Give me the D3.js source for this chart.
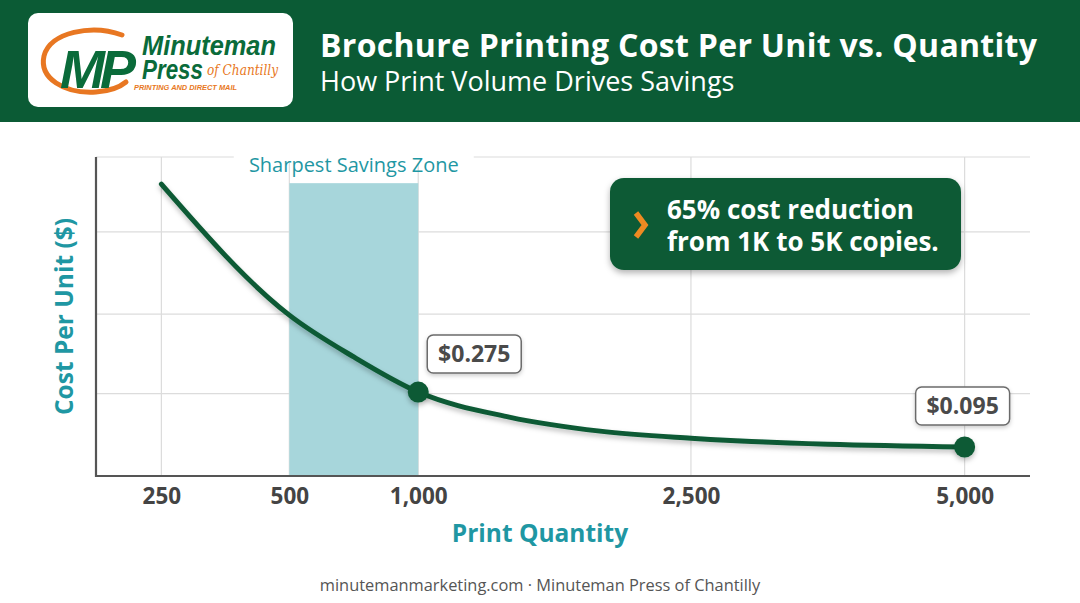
<!DOCTYPE html>
<html>
<head>
<meta charset="utf-8">
<script src="https://cdn.jsdelivr.net/npm/d3@7"></script>
<style>
  html, body { margin: 0; padding: 0; background: #ffffff; }
  svg { display: block; font-family: "Open Sans", "Noto Sans", sans-serif; }
</style>
</head>
<body>
<svg id="chart" width="1080" height="603"></svg>
<script>
// ---- data ----
const quantities   = [250, 500, 750, 1000, 1500, 2000, 2500, 5000];
const costPerUnit  = [0.956, 0.527, 0.39, 0.275, 0.193, 0.147, 0.124, 0.095];
const tickQuantities = [250, 500, 1000, 2500, 5000];
const tickLabels     = ["250", "500", "1,000", "2,500", "5,000"];
const gridCosts      = [0.27, 0.53, 0.80, 1.045];
const highlightQuantities = [1000, 5000];
const highlightLabels     = ["$0.275", "$0.095"];
const zoneRange = [500, 1000];
const zoneLabel = "Sharpest Savings Zone";
const titleText = "Brochure Printing Cost Per Unit vs. Quantity";
const subtitleText = "How Print Volume Drives Savings";
const calloutLines = ["65% cost reduction", "from 1K to 5K copies."];
const xTitle = "Print Quantity";
const yTitle = "Cost Per Unit ($)";
const footerText = "minutemanmarketing.com · Minuteman Press of Chantilly";

// ---- layout ----
const W = 1080, H = 603;
const plot = { left: 96, right: 1030, top: 157, bottom: 476 };
const xStops = [0.07, 0.207, 0.345, 0.637, 0.93];
const GREEN = "#0b5a34", TEAL = "#1f97a3", ORANGE = "#ee8a22";

const svg = d3.select("#chart");
const defs = svg.append("defs");
function shadow(id, dy, blur, op) {
  const f = defs.append("filter").attr("id", id)
    .attr("x", "-20%").attr("y", "-30%").attr("width", "140%").attr("height", "170%");
  f.append("feDropShadow").attr("dx", 0).attr("dy", dy)
    .attr("stdDeviation", blur).attr("flood-color", "#000").attr("flood-opacity", op);
}
shadow("sh-line", 3, 2.5, 0.25);
shadow("sh-box", 3, 3, 0.3);
shadow("sh-tag", 2, 2, 0.2);

const pw = plot.right - plot.left;
const x = d3.scaleLinear()
  .domain(tickQuantities)
  .range(xStops.map(s => plot.left + s * pw));
const y = d3.scaleLinear().domain([0, 1.045]).range([plot.bottom, plot.top]);

// ---- header ----
svg.append("rect").attr("x", 0).attr("y", 0).attr("width", W).attr("height", 122).attr("fill", "#0b5b35");

// logo
const logo = svg.append("g").attr("font-family", "Liberation Sans, Arial, sans-serif");
logo.append("rect").attr("x", 28).attr("y", 13).attr("width", 265).attr("height", 94).attr("rx", 10).attr("fill", "#fff");
logo.append("path")
  .attr("d", "M122,35 C92,24 50,32 44,56 C39,78 64,94 96,92 C110,91 120,87 126,82")
  .attr("fill", "none").attr("stroke", "#e87722").attr("stroke-width", 5).attr("stroke-linecap", "round");
logo.append("text").attr("x", 60).attr("y", 88).attr("font-size", 54).attr("font-weight", 800)
  .attr("font-style", "italic").attr("fill", "#0a6b3a").attr("letter-spacing", -5).text("MP");
logo.append("text").attr("x", 142).attr("y", 55).attr("font-size", 27).attr("font-weight", 700)
  .attr("font-style", "italic").attr("fill", "#0a6b3a")
  .attr("textLength", 134).attr("lengthAdjust", "spacingAndGlyphs").text("Minuteman");
logo.append("text").attr("x", 142).attr("y", 79).attr("font-size", 27).attr("font-weight", 700)
  .attr("font-style", "italic").attr("fill", "#0a6b3a")
  .attr("textLength", 61).attr("lengthAdjust", "spacingAndGlyphs").text("Press");
logo.append("text").attr("x", 207).attr("y", 75).attr("font-size", 15)
  .attr("font-style", "italic").attr("fill", "#e87722").attr("font-family", "DejaVu Serif, serif")
  .attr("textLength", 71).attr("lengthAdjust", "spacingAndGlyphs").text("of Chantilly");
logo.append("text").attr("x", 134).attr("y", 90).attr("font-size", 7.6).attr("font-weight", 700)
  .attr("font-style", "italic").attr("fill", "#e87722")
  .attr("textLength", 103).attr("lengthAdjust", "spacingAndGlyphs").text("PRINTING AND DIRECT MAIL");

svg.append("text").attr("x", 320).attr("y", 57).attr("fill", "#fff")
  .attr("font-size", 32).attr("font-weight", 700).attr("letter-spacing", 0.3).text(titleText);
svg.append("text").attr("x", 320).attr("y", 91).attr("fill", "#fff")
  .attr("font-size", 27).attr("font-weight", 400).text(subtitleText);

// ---- grid ----
const grid = svg.append("g");
grid.selectAll("line.h").data(gridCosts).join("line")
  .attr("x1", plot.left).attr("x2", plot.right)
  .attr("y1", d => y(d)).attr("y2", d => y(d))
  .attr("stroke", "#dcdcdc").attr("stroke-width", 1.2);
grid.selectAll("line.v").data(tickQuantities).join("line")
  .attr("x1", d => x(d)).attr("x2", d => x(d))
  .attr("y1", plot.top).attr("y2", plot.bottom)
  .attr("stroke", "#dcdcdc").attr("stroke-width", 1.2);

// zone
const zoneTop = y(costPerUnit[0]) - 1;
svg.append("rect")
  .attr("x", x(zoneRange[0])).attr("y", zoneTop)
  .attr("width", x(zoneRange[1]) - x(zoneRange[0])).attr("height", plot.bottom - zoneTop)
  .attr("fill", "#a7d6db");
const zx = (x(zoneRange[0]) + x(zoneRange[1])) / 2;
svg.append("rect").attr("x", zx - 120).attr("y", plot.top - 4).attr("width", 240).attr("height", 10).attr("fill", "#fff");
svg.append("text").attr("x", zx).attr("y", 172).attr("text-anchor", "middle")
  .attr("fill", TEAL).attr("font-size", 20).text(zoneLabel);

// axes
const xAxis = d3.axisBottom(x).tickValues(tickQuantities)
  .tickFormat((d, i) => tickLabels[i]).tickSize(0).tickPadding(12);
const gx = svg.append("g").attr("transform", `translate(0,${plot.bottom})`).call(xAxis);
gx.select(".domain").attr("d", `M${plot.left},0H${plot.right}`).attr("stroke", "#555").attr("stroke-width", 2.2);
gx.selectAll("text").attr("font-size", 22.5).attr("font-weight", 700).attr("fill", "#444")
  .attr("font-family", "Open Sans, sans-serif");

const yAxis = d3.axisLeft(y).tickValues([]).tickSize(0);
const gy = svg.append("g").attr("transform", `translate(${plot.left},0)`).call(yAxis);
gy.select(".domain").attr("d", `M0,${plot.top}V${plot.bottom + 1}`).attr("stroke", "#555").attr("stroke-width", 2.2);

svg.append("text").attr("x", (plot.left + plot.right) / 2 - 23).attr("y", 542).attr("text-anchor", "middle")
  .attr("fill", TEAL).attr("font-size", 24.5).attr("font-weight", 700).text(xTitle);
svg.append("text").attr("transform", `translate(73,${(plot.top + plot.bottom) / 2}) rotate(-90)`)
  .attr("text-anchor", "middle").attr("fill", TEAL).attr("font-size", 24.5).attr("font-weight", 700).text(yTitle);

// ---- line ----
const data = quantities.map((q, i) => ({ q, c: costPerUnit[i] }));
const line = d3.line().x(d => x(d.q)).y(d => y(d.c)).curve(d3.curveMonotoneX);
svg.append("path").datum(data).attr("d", line)
  .attr("fill", "none").attr("stroke", GREEN).attr("stroke-width", 5)
  .attr("stroke-linecap", "round").attr("filter", "url(#sh-line)");

const hl = highlightQuantities.map((q, i) => ({ q, c: costPerUnit[quantities.indexOf(q)], label: highlightLabels[i] }));
svg.selectAll("circle.pt").data(hl).join("circle")
  .attr("cx", d => x(d.q)).attr("cy", d => y(d.c)).attr("r", 10.5)
  .attr("fill", GREEN).attr("filter", "url(#sh-line)");

// tags
const tagOffsets = [{ dx: 56, dy: -38 }, { dx: -2, dy: -41 }];
const tags = svg.selectAll("g.tag").data(hl).join("g")
  .attr("transform", (d, i) => `translate(${x(d.q) + tagOffsets[i].dx},${y(d.c) + tagOffsets[i].dy})`);
tags.append("rect").attr("x", -47).attr("y", -19).attr("width", 94).attr("height", 38).attr("rx", 6)
  .attr("fill", "#fff").attr("stroke", "#6b6b6b").attr("stroke-width", 1.5).attr("filter", "url(#sh-tag)");
tags.append("text").attr("text-anchor", "middle").attr("dy", "0.36em")
  .attr("font-size", 23).attr("font-weight", 700).attr("fill", "#4a4a4a").text(d => d.label);

// callout
const co = svg.append("g").attr("transform", "translate(610,178)");
co.append("rect").attr("width", 351).attr("height", 92).attr("rx", 14).attr("fill", GREEN).attr("filter", "url(#sh-box)");
co.append("path").attr("d", "M26,35 L35,47 L26,59").attr("fill", "none").attr("stroke", ORANGE)
  .attr("stroke-width", 5.5).attr("stroke-linejoin", "miter").attr("stroke-linecap", "butt");
co.selectAll("text").data(calloutLines).join("text")
  .attr("x", 57).attr("y", (d, i) => 41 + i * 32)
  .attr("fill", "#fff").attr("font-size", 26).attr("font-weight", 700).text(d => d);

// footer
svg.append("text").attr("x", W / 2).attr("y", 591).attr("text-anchor", "middle")
  .attr("fill", "#555").attr("font-size", 16.4).text(footerText);
</script>
</body>
</html>
